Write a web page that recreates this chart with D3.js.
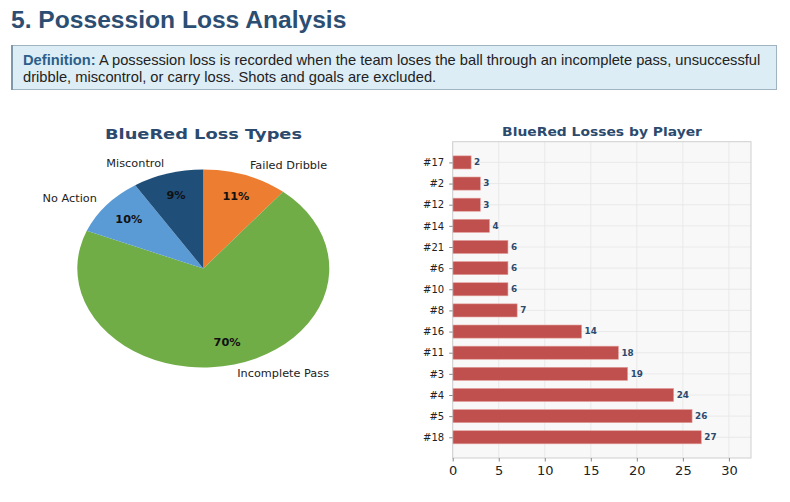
<!DOCTYPE html>
<html><head><meta charset="utf-8">
<script src="https://cdn.jsdelivr.net/npm/d3@7"></script>
<style>html,body{margin:0;padding:0;background:#fff;} svg{display:block;}</style>
</head><body>
<svg id="c" width="790" height="502"></svg>
<script>
// ---- data ----
const pieCategories = ["Failed Dribble", "Incomplete Pass", "No Action", "Miscontrol"];
const pieValues = [18, 116, 16, 15];
const pieColors = ["#ed7d31", "#70ad47", "#5b9bd5", "#1f4e79"];

const players = ["#18", "#5", "#4", "#3", "#11", "#16", "#8", "#10", "#6", "#21", "#14", "#12", "#2", "#17"];
const losses  = [27, 26, 24, 19, 18, 14, 7, 6, 6, 6, 4, 3, 3, 2];
const xTicks = [0, 5, 10, 15, 20, 25, 30];

const headerText = "5. Possession Loss Analysis";
const defLabel = "Definition:";
const defLines = [" A possession loss is recorded when the team loses the ball through an incomplete pass, unsuccessful",
                  "dribble, miscontrol, or carry loss. Shots and goals are excluded."];

const svg = d3.select("#c");
const SANS = "'Liberation Sans', Arial, sans-serif";
const DJ = "'DejaVu Sans', sans-serif";

// text helper with horizontal stretch (the reference raster is stretched horizontally)
function stext(parent, x, y, sx, txt) {
  return parent.append("text").attr("transform", `translate(${x},${y}) scale(${sx},1)`).text(txt);
}

// ---- header ----
stext(svg, 11, 27.5, 1.025, headerText)
  .attr("font-family", SANS).attr("font-size", 24).attr("font-weight", "bold").attr("fill", "#2c4e72");

// definition box
svg.append("rect").attr("x", 11.5).attr("y", 45.5).attr("width", 765).attr("height", 44)
  .attr("fill", "#ddedf5").attr("stroke", "#9fb3c1").attr("stroke-width", 1);
svg.append("rect").attr("x", 11).attr("y", 45).attr("width", 2).attr("height", 45).attr("fill", "#7f98aa");
const t1 = stext(svg, 23, 65, 1.05, null).attr("font-family", SANS).attr("font-size", 14).attr("fill", "#222");
t1.append("tspan").attr("font-weight", "bold").attr("fill", "#2c5f8a").text(defLabel);
t1.append("tspan").text(defLines[0]);
stext(svg, 23, 82, 1.05, defLines[1]).attr("font-family", SANS).attr("font-size", 14).attr("fill", "#222");

// ---- pie ----
const cx = 203.3, cy = 268.5, rx = 126, ry = 99;
stext(svg, 203.5, 138.5, 1.22, "BlueRed Loss Types").attr("text-anchor", "middle")
  .attr("font-family", DJ).attr("font-size", 14.6).attr("font-weight", "bold").attr("fill", "#2c4a6e");

const pie = d3.pie().sort(null).value(d => d)(pieValues);
const arc = d3.arc().innerRadius(0).outerRadius(ry);
const total = d3.sum(pieValues);
const pg = svg.append("g").attr("transform", `translate(${cx},${cy}) scale(${rx/ry},1)`);
pg.selectAll("path").data(pie).join("path")
  .attr("d", arc).attr("fill", (d, i) => pieColors[i]);

pie.forEach((d, i) => {
  const a = (d.startAngle + d.endAngle) / 2;
  const s = Math.sin(a), c = Math.cos(a);
  stext(svg, cx + 0.77 * rx * s, cy - 0.77 * ry * c, 1.13, Math.round(d.value / total * 100) + "%")
    .attr("text-anchor", "middle").attr("dominant-baseline", "central")
    .attr("font-family", DJ).attr("font-size", 10).attr("font-weight", "bold").attr("fill", "#111");
  stext(svg, cx + 1.1 * rx * s, cy - 1.1 * ry * c, 1.13, pieCategories[i])
    .attr("text-anchor", s >= 0 ? "start" : "end").attr("dominant-baseline", "central")
    .attr("font-family", DJ).attr("font-size", 10).attr("fill", "#222");
});

// ---- bar chart ----
const L = 452.7, R = 751, T = 141.7, B = 458;
stext(svg, 602, 135.5, 1.12, "BlueRed Losses by Player").attr("text-anchor", "middle")
  .attr("font-family", DJ).attr("font-size", 12.4).attr("font-weight", "bold").attr("fill", "#2c4a6e");

const x = d3.scaleLinear().domain([0, 32.4]).range([L, R]);
const y = d3.scaleLinear().domain([-0.98, 13.98]).range([B, T]);
const band = Math.abs(y(1) - y(0));

svg.append("rect").attr("x", L).attr("y", T).attr("width", R - L).attr("height", B - T).attr("fill", "#f8f8f8");
// grid
svg.append("g").selectAll("line").data(xTicks).join("line")
  .attr("x1", d => x(d)).attr("x2", d => x(d)).attr("y1", T).attr("y2", B)
  .attr("stroke", "#e6e6e6").attr("stroke-width", 0.8);
svg.append("g").selectAll("line").data(players).join("line")
  .attr("x1", L).attr("x2", R).attr("y1", (d, i) => y(i)).attr("y2", (d, i) => y(i))
  .attr("stroke", "#e6e6e6").attr("stroke-width", 0.8);

// bars
svg.append("g").selectAll("rect").data(losses).join("rect")
  .attr("x", x(0)).attr("y", (d, i) => y(i) - band * 0.31)
  .attr("width", d => x(d) - x(0)).attr("height", band * 0.62)
  .attr("fill", "#c0504d").attr("stroke", "#e3a09e").attr("stroke-width", 0.6);

// value labels
const vg = svg.append("g");
losses.forEach((d, i) => {
  stext(vg, x(d) + 3, y(i), 1.1, d).attr("dominant-baseline", "central")
    .attr("font-family", DJ).attr("font-size", 8).attr("font-weight", "bold").attr("fill", "#2c4a6e");
});

// frame
svg.append("rect").attr("x", L).attr("y", T).attr("width", R - L).attr("height", B - T)
  .attr("fill", "none").attr("stroke", "#cfcfcf").attr("stroke-width", 1);

// axes
const xAxis = svg.append("g").attr("transform", `translate(0,${B})`)
  .call(d3.axisBottom(x).tickValues(xTicks).tickSize(3.5).tickPadding(4));
xAxis.select(".domain").remove();
xAxis.selectAll("line").attr("stroke", "#888");
xAxis.selectAll("text").attr("font-family", DJ).attr("font-size", 13).attr("fill", "#222");

const yIdx = d3.range(players.length);
const yAxis = svg.append("g").attr("transform", `translate(${L},0)`)
  .call(d3.axisLeft(y).tickValues(yIdx).tickFormat(i => players[i]).tickSize(3.5).tickPadding(5));
yAxis.select(".domain").remove();
yAxis.selectAll("line").attr("stroke", "#888");
yAxis.selectAll("text").attr("font-family", DJ).attr("font-size", 10).attr("fill", "#222");
</script>
</body></html>
